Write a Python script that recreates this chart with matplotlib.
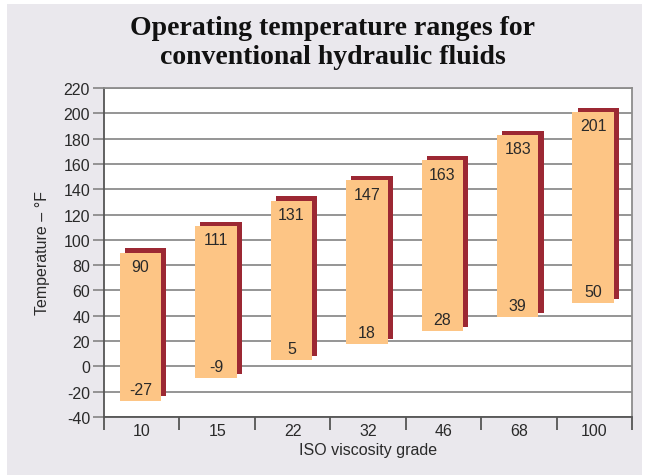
import matplotlib.pyplot as plt
import numpy as np
from matplotlib.patches import Rectangle
from matplotlib.ticker import MultipleLocator, FixedLocator

grades = ['10', '15', '22', '32', '46', '68', '100']
t_low  = [-27, -9, 5, 18, 28, 39, 50]
t_high = [90, 111, 131, 147, 163, 183, 201]

plt.rcParams['font.family'] = ['Liberation Sans', 'DejaVu Sans']
plt.rcParams['axes.unicode_minus'] = False

fill_col   = '#FDC585'
shadow_col = '#9C2833'
grid_col   = '#8C8C8C'
txt_col    = '#2A2A2A'

fig = plt.figure(figsize=(6.47, 4.77), dpi=100)
fig.patch.set_facecolor('white')
# gray panel behind everything
fig.patches.append(Rectangle((7/647, 1/477), 635/647, 471/477, transform=fig.transFigure,
                             facecolor='#EAE8ED', edgecolor='none', zorder=-10))

ax = fig.add_axes([104/647, 59/477, 528/647, 329/477])
ax.set_facecolor('white')

x = np.arange(len(grades))
low = np.array(t_low)
high = np.array(t_high)
w = 0.55
dx = 0.068   # shadow offset (categories)
dy = 3.3     # shadow offset (deg F)

ax.bar(x - 0.015 + dx, high - low, bottom=low + dy, width=w, color=shadow_col, zorder=3)
ax.bar(x - 0.015, high - low, bottom=low, width=w, color=fill_col, zorder=4)

for i in range(len(x)):
    ax.text(x[i] - 0.015, high[i] - 11, str(t_high[i]), ha='center', va='center',
            fontsize=11.5, color=txt_col, zorder=5)
    ax.text(x[i] - 0.015, low[i] + 9, str(t_low[i]), ha='center', va='center',
            fontsize=11.5, color=txt_col, zorder=5)

ax.set_xlim(-0.5, 6.5)
ax.set_ylim(-40, 220)
ax.yaxis.set_major_locator(MultipleLocator(20))
ax.grid(axis='y', color=grid_col, lw=1.3, zorder=1)
ax.tick_params(axis='y', length=8, width=1.3, color=grid_col, labelsize=11.5,
               labelcolor=txt_col, pad=2)

ax.set_xticks(x)
ax.set_xticklabels(grades)
ax.xaxis.set_minor_locator(FixedLocator(np.arange(-0.5, 7, 1)))
ax.tick_params(axis='x', which='major', length=0, labelsize=11.5, labelcolor=txt_col, pad=4)
ax.tick_params(axis='x', which='minor', length=9, width=1.3, color='#555555')

for s in ['left', 'bottom']:
    ax.spines[s].set_color('#555555')
    ax.spines[s].set_linewidth(1.3)
for s in ['right', 'top']:
    ax.spines[s].set_color(grid_col)
    ax.spines[s].set_linewidth(1.3)

ax.set_xlabel('ISO viscosity grade', fontsize=11.5, color=txt_col, labelpad=3)
fig.text(42/647, 1 - 253/477, 'Temperature – °F', rotation=90, ha='center', va='center',
         fontsize=11.5, color=txt_col)

fig.text(333/647, 1 - 43/477, 'Operating temperature ranges for\nconventional hydraulic fluids',
         ha='center', va='center', fontsize=20, fontweight='bold', linespacing=1.2,
         family=['Liberation Serif'], color='#111111')

fig.savefig('out.png', dpi=100, facecolor=fig.get_facecolor())
